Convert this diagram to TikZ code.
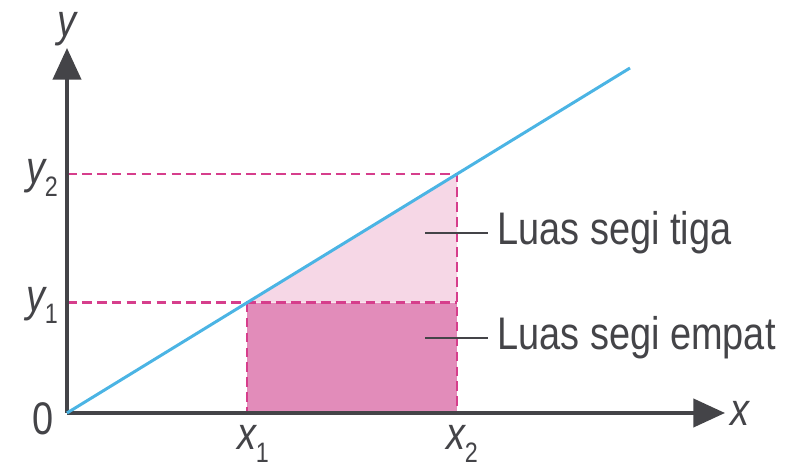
\documentclass[tikz,border=0pt]{standalone}
\usepackage{fontspec}
\setmainfont{Liberation Sans}
\newfontfamily\narrowsf[FakeStretch=0.83]{Liberation Sans}
\usepackage{xcolor}
\definecolor{axgray}{RGB}{68,68,72}
\definecolor{lnblue}{RGB}{75,180,228}
\definecolor{dsmag}{RGB}{214,62,140}
\definecolor{rectpink}{RGB}{226,140,186}
\definecolor{tripink}{RGB}{246,215,230}
\usetikzlibrary{arrows.meta,positioning,calc}
\newcommand{\axsub}[2]{{\itshape #1}\raisebox{-0.28em}{\fontsize{16}{17}\selectfont #2}}

\begin{document}
\begin{tikzpicture}[
    axis/.style={draw=axgray, line width=2.1pt, -{Triangle[length=18pt, width=16pt]}},
    guide/.style={draw=dsmag, line width=1.5pt, dash pattern=on 5.5pt off 3pt},
    leader/.style={draw=axgray, line width=1.1pt, shorten >=5pt},
    axlbl/.style={font=\narrowsf\fontsize{26}{28}\selectfont, text=axgray, inner sep=0pt},
    arealbl/.style={font=\narrowsf\fontsize{26}{28}\selectfont, text=axgray, anchor=west, inner sep=0pt}
  ]
    \useasboundingbox (-1.34,-1.10) rectangle (14.54,8.26);
    \coordinate (o) at (0,0);
    \coordinate (p1) at (3.6,2.206);
    \coordinate (p2) at (7.8,4.78);
    \coordinate (q1) at (3.6,0);
    \coordinate (q2) at (7.8,0);
    \coordinate (r2) at (7.8,2.206);
    \coordinate (s1) at (0,2.206);
    \coordinate (s2) at (0,4.78);
    \coordinate (lend) at (11.26,6.9);

    % areas
    \fill[rectpink] (q1) rectangle (r2);
    \fill[tripink] (p1) -- (p2) -- (r2) -- cycle;

    % dashed guides
    \draw[guide] (s2) -- (p2) -- (q2);
    \draw[guide] (s1) -- (r2);
    \draw[guide] (p1) -- (q1);

    % axes and line
    \draw[axis] (o) -- (0,7.3) coordinate (ytip);
    \draw[axis] (o) -- (13.16,0) coordinate (xtip);
    \draw[lnblue, line width=1.7pt] (o) -- (lend);

    % labels
    \node[axlbl] (ylbl) at (0,7.68) {\itshape y};
    \node[axlbl] (xlbl) at (13.46,0) {\itshape x};
    \node[axlbl] (zero) at (-0.48,-0.12) {0};
    \node[axlbl] (y2lbl) at (-0.5,4.7) {\axsub{y}{2}};
    \node[axlbl] (y1lbl) at (-0.5,2.15) {\axsub{y}{1}};
    \node[axlbl] (x1lbl) at (3.72,-0.62) {\axsub{x}{1}};
    \node[axlbl] (x2lbl) at (7.9,-0.62) {\axsub{x}{2}};

    % area labels
    \node[arealbl] (tri) at (8.6,3.6) {Luas segi tiga};
    \node[arealbl] (rect) at (8.6,1.5) {Luas segi empat};
    \draw[leader] (7.16,3.6) coordinate (t0) -- (tri.west);
    \draw[leader] (7.16,1.5) coordinate (r0) -- (rect.west);
  \end{tikzpicture}
\end{document}
